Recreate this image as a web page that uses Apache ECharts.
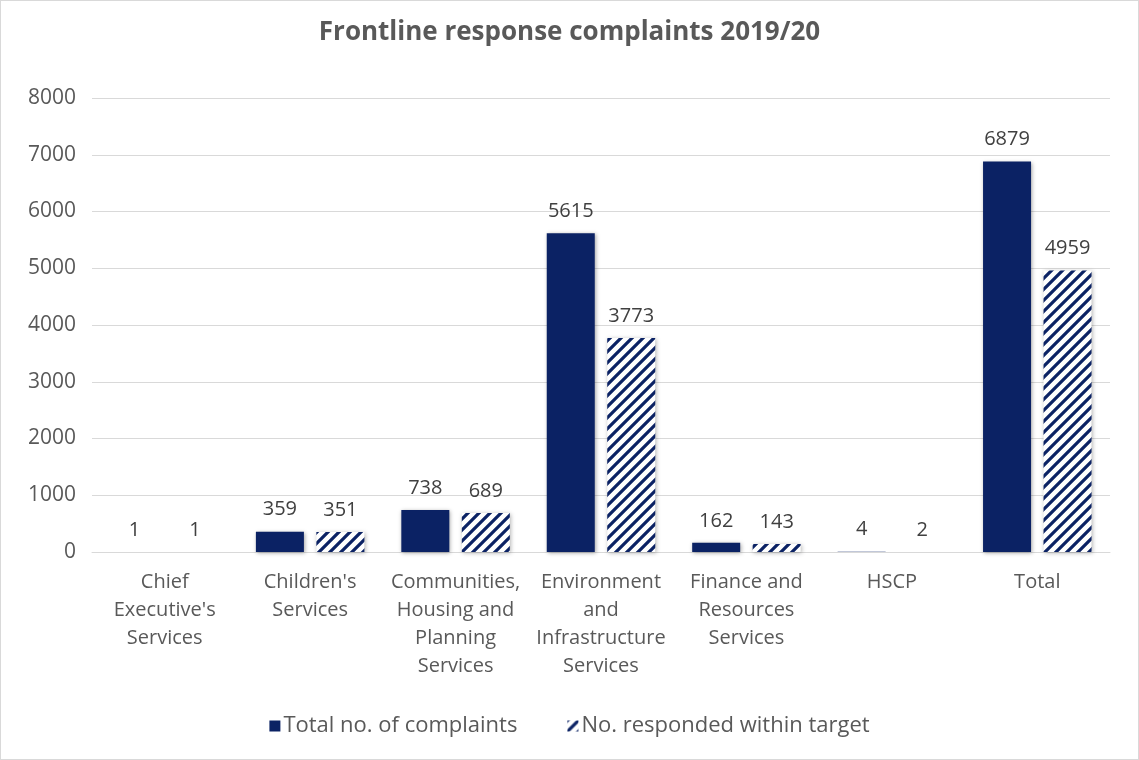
<!DOCTYPE html>
<html><head><meta charset="utf-8">
<script src="https://cdn.jsdelivr.net/npm/echarts@6/dist/echarts.min.js"></script>
<style>html,body{margin:0;padding:0;background:#fff}#c{width:1139px;height:760px;box-sizing:border-box;border:1px solid #d9d9d9}</style>
</head><body><div id="c"></div>
<script>
const categories = ["Chief\nExecutive's\nServices","Children's\nServices","Communities,\nHousing and\nPlanning\nServices","Environment\nand\nInfrastructure\nServices","Finance and\nResources\nServices","HSCP","Total"];
const totalComplaints = [1,359,738,5615,162,4,6879];
const withinTarget = [1,351,689,3773,143,2,4959];
const seriesNames = ["Total no. of complaints","No. responded within target"];
const titleText = "Frontline response complaints 2019/20";

const navy = '#0b2264';
function makePattern(){
  const s = 11;
  const cv = document.createElement('canvas');
  cv.width = s; cv.height = s;
  const ctx = cv.getContext('2d');
  ctx.fillStyle = '#ffffff'; ctx.fillRect(0,0,s,s);
  ctx.strokeStyle = navy; ctx.lineWidth = 3.2;
  ctx.beginPath();
  ctx.moveTo(0,s); ctx.lineTo(s,0);
  ctx.moveTo(-s/2,s/2); ctx.lineTo(s/2,-s/2);
  ctx.moveTo(s/2,s*1.5); ctx.lineTo(s*1.5,s/2);
  ctx.stroke();
  return cv;
}
const pattern = makePattern();
const font = '"Open Sans", sans-serif';
const chart = echarts.init(document.getElementById('c'));
const lbl = {show:true, position:'top', distance:12, color:'#404040', fontSize:20, fontFamily:font};
function toItems(arr){
  return arr.map(v => v < 20 ? {value:v, itemStyle:{shadowBlur:0, shadowOffsetX:0, shadowOffsetY:0, shadowColor:'transparent'}} : v);
}
chart.setOption({
  animation:false,
  backgroundColor:'#fff',
  title:{text:titleText, left:'center', top:14, textStyle:{fontSize:26, fontWeight:'bold', color:'#595959', fontFamily:font}},
  legend:{bottom:17, left:'center', itemGap:50, itemWidth:11, itemHeight:11, textStyle:{fontSize:22, color:'#595959', fontFamily:font, padding:[0,0,0,-2]},
    data:[{name:seriesNames[0], icon:'rect'},{name:seriesNames[1], icon:'rect'}]},
  grid:{left:91, right:28, top:97, bottom:207},
  xAxis:{type:'category', data:categories,
    axisLine:{lineStyle:{color:'#d9d9d9'}}, axisTick:{show:false},
    axisLabel:{interval:0, color:'#595959', fontSize:20, fontFamily:font, lineHeight:28, margin:16}},
  yAxis:{type:'value', min:0, max:8000, interval:1000,
    axisLine:{show:false}, axisTick:{show:false},
    splitLine:{lineStyle:{color:'#d9d9d9', width:1}},
    axisLabel:{color:'#595959', fontSize:21, fontFamily:font, margin:16, formatter:function(v){return String(v);}}},
  series:[
    {name:seriesNames[0], type:'bar', data:toItems(totalComplaints), barWidth:48, barGap:'26%',
      itemStyle:{color:navy, shadowColor:'rgba(0,0,0,0.35)', shadowBlur:4, shadowOffsetX:1, shadowOffsetY:1},
      label:lbl},
    {name:seriesNames[1], type:'bar', data:toItems(withinTarget), barWidth:48,
      itemStyle:{color:{image:pattern, repeat:'repeat'}, shadowColor:'rgba(0,0,0,0.3)', shadowBlur:4, shadowOffsetX:1, shadowOffsetY:1},
      label:lbl}
  ]
});
</script></body></html>
